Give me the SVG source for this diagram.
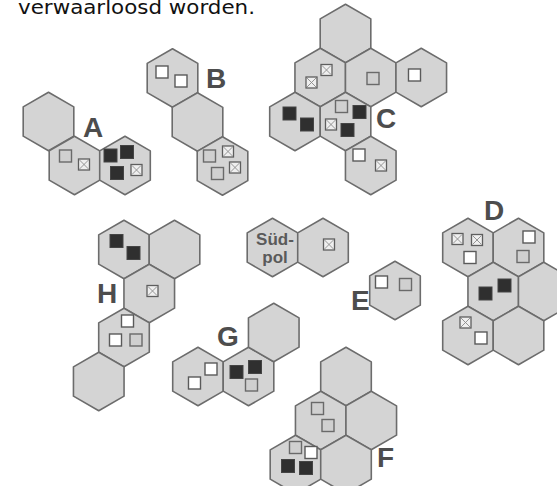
<svg xmlns="http://www.w3.org/2000/svg" xmlns:xlink="http://www.w3.org/1999/xlink" width="557" height="486" viewBox="0 0 557 486">
<style>
.hex{fill:#d4d4d4;stroke:#6c6c6c;stroke-width:1.6;stroke-linejoin:round}
.lbl{font-family:"Liberation Sans",Arial,sans-serif;font-weight:bold;font-size:28px;fill:#4d4d4d}
.sp{font-family:"Liberation Sans",Arial,sans-serif;font-weight:bold;font-size:17px;fill:#5a5a5a;text-anchor:middle}
</style>
<defs>
<polygon id="hx" class="hex" points="0,-29.3 25.3,-14.65 25.3,14.65 0,29.3 -25.3,14.65 -25.3,-14.65"/>
<rect id="sw" x="-6" y="-6" width="12" height="12" fill="#ffffff" stroke="#5a5a5a" stroke-width="1.4"/>
<rect id="sg" x="-6" y="-6" width="12" height="12" fill="#d0d0d0" stroke="#6a6a6a" stroke-width="1.4"/>
<rect id="sf" x="-6.5" y="-6.5" width="13" height="13" fill="#2f2f2f" stroke="#444" stroke-width="1"/>
<g id="sx"><rect x="-5.5" y="-5.5" width="11" height="11" fill="#efefef" stroke="#5e5e5e" stroke-width="1.3"/><path d="M-4.5,-4.5L4.5,4.5M4.5,-4.5L-4.5,4.5" stroke="#8a8a8a" stroke-width="0.9"/></g>
</defs>
<rect width="557" height="486" fill="#ffffff"/>
<text x="18" y="14" font-family="DejaVu Sans,sans-serif" font-size="20" fill="#111" textLength="237" lengthAdjust="spacingAndGlyphs">verwaarloosd worden.</text>
<g id="connectors"></g>
<g id="groupA">
<use xlink:href="#hx" x="48.5" y="121.5"/><use xlink:href="#hx" x="74.5" y="165.5"/><use xlink:href="#hx" x="125" y="165.5"/>
<use xlink:href="#sg" x="65.5" y="156"/><use xlink:href="#sx" x="84" y="164.5"/>
<use xlink:href="#sf" x="110.5" y="155.5"/><use xlink:href="#sf" x="127" y="152"/><use xlink:href="#sf" x="117" y="173"/><use xlink:href="#sx" x="136.5" y="170"/>
<text class="lbl" x="83" y="137">A</text>
</g>
<g id="groupB">
<use xlink:href="#hx" x="172.5" y="78"/><use xlink:href="#hx" x="197.5" y="122"/><use xlink:href="#hx" x="222.5" y="166"/>
<use xlink:href="#sw" x="162" y="72"/><use xlink:href="#sw" x="181" y="81"/>
<use xlink:href="#sg" x="209.5" y="156"/><use xlink:href="#sx" x="228" y="151.5"/><use xlink:href="#sx" x="235" y="167.5"/><use xlink:href="#sg" x="217.5" y="173.5"/>
<text class="lbl" x="206" y="88">B</text>
</g>
<g id="groupC">
<use xlink:href="#hx" x="345.5" y="33.5"/>
<use xlink:href="#hx" x="320.25" y="77.5"/><use xlink:href="#hx" x="370.75" y="77.5"/><use xlink:href="#hx" x="421.25" y="77.5"/>
<use xlink:href="#hx" x="295" y="121.5"/><use xlink:href="#hx" x="345.5" y="121.5"/>
<use xlink:href="#hx" x="370.75" y="165.5"/>
<use xlink:href="#sx" x="326.5" y="70"/><use xlink:href="#sx" x="311.5" y="82.5"/>
<use xlink:href="#sg" x="373" y="78.5"/>
<use xlink:href="#sw" x="414.5" y="75"/>
<use xlink:href="#sf" x="289.5" y="113.5"/><use xlink:href="#sf" x="307" y="124.5"/>
<use xlink:href="#sg" x="341.5" y="106.5"/><use xlink:href="#sf" x="359.5" y="112"/><use xlink:href="#sx" x="331" y="124.5"/><use xlink:href="#sf" x="347.5" y="130"/>
<use xlink:href="#sw" x="359" y="155"/><use xlink:href="#sx" x="381" y="165.5"/>
<text class="lbl" x="376" y="128">C</text>
</g>
<g id="groupH">
<use xlink:href="#hx" x="124" y="249.5"/><use xlink:href="#hx" x="174.5" y="249.5"/><use xlink:href="#hx" x="149.25" y="293.5"/><use xlink:href="#hx" x="124" y="337.5"/><use xlink:href="#hx" x="98.75" y="381.5"/>
<use xlink:href="#sf" x="116.5" y="241"/><use xlink:href="#sf" x="133.5" y="253"/>
<use xlink:href="#sx" x="152.5" y="291"/>
<use xlink:href="#sw" x="127.5" y="321"/><use xlink:href="#sw" x="115.5" y="340"/><use xlink:href="#sg" x="136" y="340"/>
<text class="lbl" x="97" y="303">H</text>
</g>
<g id="suedpol">
<use xlink:href="#hx" x="272.5" y="247.5"/><use xlink:href="#hx" x="323" y="247.5"/>
<text class="sp" x="275" y="245">Süd-</text><text class="sp" x="275" y="263">pol</text>
<use xlink:href="#sx" x="329" y="244.5"/>
</g>
<g id="groupE">
<use xlink:href="#hx" x="395" y="290.5"/>
<use xlink:href="#sw" x="381.5" y="282"/><use xlink:href="#sg" x="405.5" y="284.5"/>
<text class="lbl" x="351" y="310">E</text>
</g>
<g id="groupD">
<use xlink:href="#hx" x="468" y="247.5"/><use xlink:href="#hx" x="518.5" y="247.5"/>
<use xlink:href="#hx" x="493.25" y="291.5"/><use xlink:href="#hx" x="543.75" y="291.5"/>
<use xlink:href="#hx" x="468" y="335.5"/><use xlink:href="#hx" x="518.5" y="335.5"/>
<use xlink:href="#sx" x="457.5" y="239"/><use xlink:href="#sx" x="477" y="240"/><use xlink:href="#sw" x="470" y="257.5"/>
<use xlink:href="#sw" x="529" y="237"/><use xlink:href="#sg" x="523" y="256.5"/>
<use xlink:href="#sf" x="485.5" y="293.5"/><use xlink:href="#sf" x="504.5" y="285.5"/>
<use xlink:href="#sx" x="465.5" y="322.5"/><use xlink:href="#sw" x="481" y="338"/>
<text class="lbl" x="484" y="220">D</text>
</g>
<g id="groupG">
<use xlink:href="#hx" x="198" y="376.5"/><use xlink:href="#hx" x="248.5" y="376.5"/><use xlink:href="#hx" x="273.75" y="332.5"/>
<use xlink:href="#sw" x="211" y="369"/><use xlink:href="#sw" x="194.5" y="383"/>
<use xlink:href="#sf" x="236.5" y="372"/><use xlink:href="#sf" x="255" y="367"/><use xlink:href="#sg" x="251.5" y="385"/>
<text class="lbl" x="217" y="346">G</text>
</g>
<g id="groupF">
<use xlink:href="#hx" x="346" y="376.5"/>
<use xlink:href="#hx" x="320.75" y="420.5"/><use xlink:href="#hx" x="371.25" y="420.5"/>
<use xlink:href="#hx" x="295.5" y="464.5"/><use xlink:href="#hx" x="346" y="464.5"/>
<use xlink:href="#sg" x="317.5" y="408.5"/><use xlink:href="#sg" x="328" y="425.5"/>
<use xlink:href="#sg" x="295.5" y="447.5"/><use xlink:href="#sw" x="311" y="452.5"/><use xlink:href="#sf" x="288" y="466"/><use xlink:href="#sf" x="306" y="468"/>
<text class="lbl" x="377" y="467">F</text>
</g>
</svg>
